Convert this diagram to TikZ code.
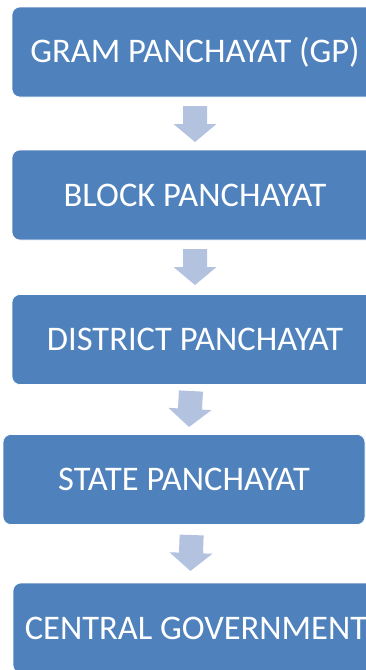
\documentclass[tikz,border=0pt]{standalone}
\usepackage{fontspec}
\setmainfont{Carlito}
\usetikzlibrary{calc}
\definecolor{boxblue}{HTML}{4F81BD}
\definecolor{arrowblue}{HTML}{B3C2DE}
\tikzset{
  levelbox/.style={rectangle, rounded corners=8pt, fill=boxblue, draw=white, line width=0.6pt,
    minimum width=366pt, minimum height=90pt, inner sep=0pt, text=white, font=\fontsize{34.5}{40}\selectfont},
  blockarrow/.style={fill=arrowblue}
}
\newcommand{\downarr}[2][0]{%
  \fill[blockarrow, shift={(#2)}, rotate=#1] (-12,-18) -- (12,-18) -- (12,0) -- (21.5,0) -- (0,18) -- (-21.5,0) -- (-12,0) -- cycle;}
\begin{document}
\begin{tikzpicture}[x=1pt, y=-1pt]
\useasboundingbox (0,0) rectangle (366,670);
\node[levelbox] (b1) at (195,52) {GRAM PANCHAYAT (GP)};
\node[levelbox] (b2) at (195,195) {BLOCK PANCHAYAT};
\node[levelbox] (b3) at (195,339.5) {DISTRICT PANCHAYAT};
\node[levelbox, minimum width=362pt] (b4) at (184,479.5) {STATE PANCHAYAT};
\node[levelbox] (b5) at (196,628) {CENTRAL GOVERNMENT};
\coordinate (a1) at (195,124);
\coordinate (a2) at (195,267);
\coordinate (a3) at (190,409);
\coordinate (a4) at (191,553);
\downarr{a1}
\downarr{a2}
\downarr[-3]{a3}
\downarr[-2]{a4}
\end{tikzpicture}
\end{document}
